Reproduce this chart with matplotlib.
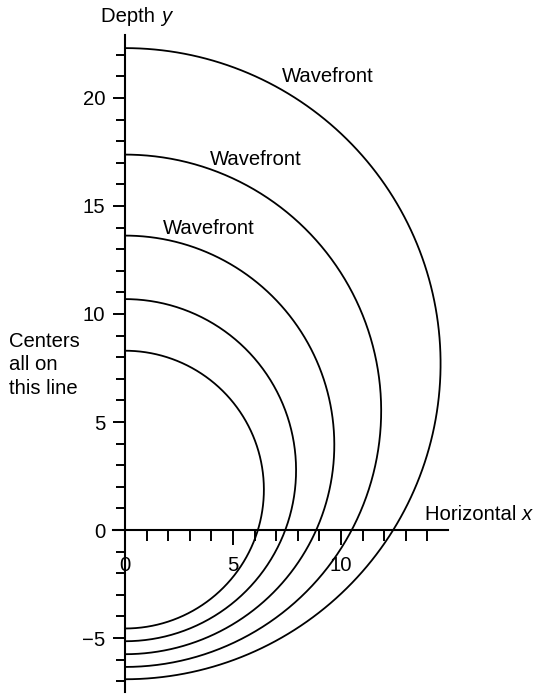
import numpy as np
import matplotlib
matplotlib.use("Agg")
import matplotlib.pyplot as plt
from matplotlib.ticker import FixedLocator, NullFormatter, FixedFormatter

plt.rcParams['font.family'] = ['Liberation Sans', 'DejaVu Sans']

# Wavefront circles: centers lie on the depth axis (x = 0)
centers_y = [1.87, 2.77, 3.94, 5.52, 7.70]
radii = [6.43, 7.92, 9.69, 11.86, 14.61]

# Labelled wavefronts: (x of left edge, baseline y)
wave_label_x = [1.76, 3.94, 7.27]
wave_label_y = [13.70, 16.90, 20.75]

x_major = [0, 5, 10]
x_minor = list(range(1, 15))
y_major = [-5, 0, 5, 10, 15, 20]
y_minor = list(range(-7, 23))

W, H, DPI = 534, 694, 100
scale = 21.6              # pixels per data unit
x0_px, y0_px = 125, 530   # pixel location of the origin
FS = 14.6

fig = plt.figure(figsize=(W / DPI, H / DPI), dpi=DPI)
ax = fig.add_axes([0, 0, 1, 1])
ax.set_xlim(-x0_px / scale, (W - x0_px) / scale)
ax.set_ylim(-(H - y0_px) / scale, y0_px / scale)
ax.set_facecolor('white')

# Half circles on the right of the depth axis
theta = np.linspace(-np.pi / 2, np.pi / 2, 400)
for c, r in zip(centers_y, radii):
    ax.plot(r * np.cos(theta), c + r * np.sin(theta), color='black', lw=1.3,
            solid_capstyle='butt')

# Axes through the origin
for s in ('top', 'right'):
    ax.spines[s].set_visible(False)
ax.spines['left'].set_position(('data', 0))
ax.spines['bottom'].set_position(('data', 0))
ax.spines['left'].set_bounds(-7.5, 22.9)
ax.spines['bottom'].set_bounds(-0.55, 14.95)
for s in ('left', 'bottom'):
    ax.spines[s].set_linewidth(1.5)
    ax.spines[s].set_zorder(3)

ax.xaxis.set_major_locator(FixedLocator(x_major))
ax.xaxis.set_minor_locator(FixedLocator([v for v in x_minor if v not in x_major]))
ax.xaxis.set_major_formatter(FixedFormatter([str(v) for v in x_major]))
ax.xaxis.set_minor_formatter(NullFormatter())
ax.yaxis.set_major_locator(FixedLocator(y_major))
ax.yaxis.set_minor_locator(FixedLocator([v for v in y_minor if v not in y_major]))
ax.yaxis.set_major_formatter(FixedFormatter([str(v).replace('-', '\u2212') for v in y_major]))
ax.yaxis.set_minor_formatter(NullFormatter())

ax.tick_params(axis='x', which='major', direction='out', length=10.8, width=1.4,
               pad=8.0, labelsize=FS)
ax.tick_params(axis='x', which='minor', direction='out', length=7.9, width=1.4)
ax.tick_params(axis='y', which='major', direction='out', length=8.6, width=1.4,
               pad=5.5, labelsize=FS)
ax.tick_params(axis='y', which='minor', direction='out', length=6.5, width=1.4)

# Axis titles and annotations
depth = ax.text(-1.11, 23.53, 'Depth ', fontsize=FS, ha='left', va='baseline')
horiz = ax.text(13.89, 0.46, 'Horizontal ', fontsize=FS, ha='left', va='baseline')

fig.canvas.draw()
renderer = fig.canvas.get_renderer()
inv = ax.transData.inverted()


def add_italic_after(txt, letter):
    bb = txt.get_window_extent(renderer)
    xd, _ = inv.transform((bb.x1, bb.y0))
    _, y = txt.get_position()
    ax.text(xd, y, letter, fontsize=FS, ha='left', va='baseline', style='italic')


add_italic_after(depth, 'y')
add_italic_after(horiz, 'x')

for line, yb in zip(['Centers', 'all on', 'this line'], [8.49, 7.41, 6.30]):
    ax.text(-5.37, yb, line, fontsize=FS, ha='left', va='baseline')

for lx, ly in zip(wave_label_x, wave_label_y):
    ax.text(lx, ly, 'Wavefront', fontsize=FS, ha='left', va='baseline')

fig.savefig('out.png', dpi=DPI, facecolor='white')
